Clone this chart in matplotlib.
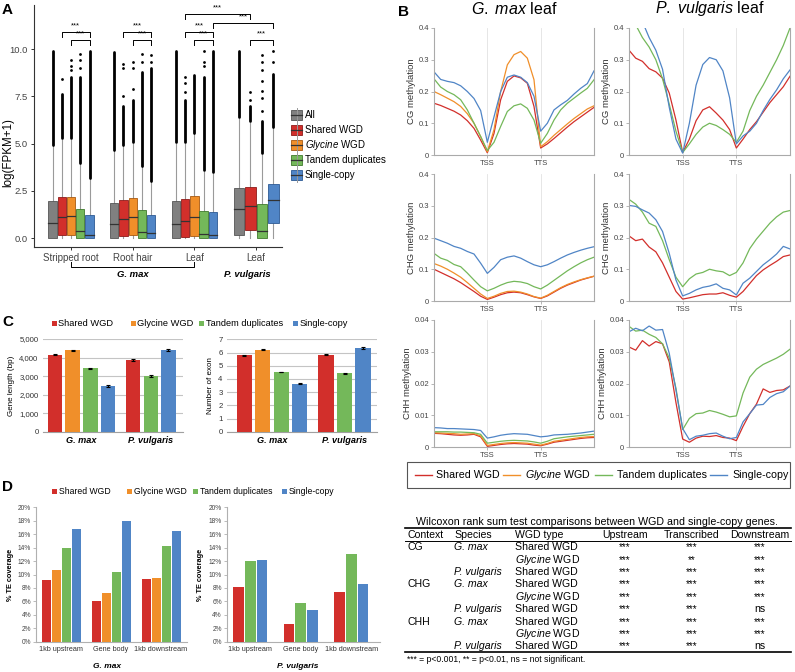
import matplotlib
matplotlib.use('Agg')
import matplotlib.pyplot as plt
from matplotlib.patches import Rectangle
from matplotlib.lines import Line2D

plt.rcParams['font.family'] = 'Liberation Sans'
plt.rcParams['mathtext.fontset'] = 'custom'
plt.rcParams['mathtext.rm'] = 'Liberation Sans'
plt.rcParams['mathtext.it'] = 'Liberation Sans:italic'
plt.rcParams['mathtext.bf'] = 'Liberation Sans:bold'

W, H = 795, 672

RED, ORANGE, GREEN, BLUE, GRAY = '#D22F2B', '#F08F2A', '#74B85A', '#5085C6', '#808080'
EDGE = {GRAY: '#555555', RED: '#8E1C1A', ORANGE: '#A85A12', GREEN: '#3F7A2C', BLUE: '#2D5A94'}
WHISKER = '#9a9a9a'

# ---------------- panel A data: log(FPKM+1) boxplots ----------------
A_TISSUES = ['Stripped root', 'Root hair', 'Leaf', 'Leaf']
A_SERIES = ['All', 'Shared WGD', '$\\mathit{Glycine}$ WGD', 'Tandem duplicates', 'Single-copy']
A_COLORS = [GRAY, RED, ORANGE, GREEN, BLUE]
A_MEMBERS = [[0, 1, 2, 3, 4], [0, 1, 2, 3, 4], [0, 1, 2, 3, 4], [0, 1, 3, 4]]
A_MIN = 0.0
A_Q1 = [[0, 0.18, 0.18, 0, 0], [0, 0.12, 0.18, 0, 0], [0, 0.05, 0.12, 0, 0], [0.18, 0.45, 0, 0.80]]
A_MED = [[0.77, 1.11, 1.15, 0.35, 0.18], [0.73, 1.02, 1.10, 0.32, 0.28],
         [0.72, 0.92, 1.10, 0.22, 0.18], [1.52, 1.70, 0.38, 2.00]]
A_Q3 = [[1.95, 2.18, 2.18, 1.56, 1.24], [1.85, 2.00, 2.10, 1.50, 1.20],
        [1.95, 2.05, 2.20, 1.42, 1.37], [2.65, 2.72, 1.78, 2.85]]
A_WHI = [[4.85, 5.20, 5.20, 3.90, 3.10], [4.60, 4.85, 5.00, 3.75, 2.95],
         [5.00, 5.00, 5.50, 3.50, 3.40], [6.30, 6.10, 4.40, 5.80]]
A_DENSE = [[9.90, 7.60, 8.50, 8.50, 9.90], [9.85, 7.00, 7.30, 8.80, 9.00],
           [9.90, 7.30, 8.60, 8.50, 9.90], [9.90, 7.00, 6.20, 8.70]]
A_SPARSE = [[[], [8.4], [8.9, 9.1, 9.4], [9.0, 9.4, 9.75], []],
            [[], [7.5, 9.0, 9.2], [7.9, 9.0, 9.3], [9.3, 9.75], [9.3, 9.7]],
            [[], [7.7, 8.2, 8.5], [], [9.1, 9.3, 9.9], []],
            [[], [7.3, 7.7], [6.7, 7.4, 7.8, 8.3, 8.9, 9.3, 9.7], [9.3, 9.9]]]
A_YTICKS = [0, 2.5, 5.0, 7.5, 10.0]
# (group, series, group, series, bracket height)
A_BRACKETS = [(0, 1, 0, 4, 10.92), (0, 2, 0, 4, 10.48),
              (1, 1, 1, 4, 10.92), (1, 2, 1, 4, 10.48),
              (2, 1, 3, 1, 11.85), (2, 4, 3, 4, 11.40),
              (2, 1, 2, 4, 10.92), (2, 2, 2, 4, 10.48),
              (3, 1, 3, 4, 10.48)]

# ---------------- panel B data: methylation profiles ----------------
B_X = [0, 0.125, 0.25, 0.375, 0.5, 0.625, 0.75, 0.875, 1.0, 1.125, 1.25, 1.375, 1.5,
       1.625, 1.75, 1.875, 2.0, 2.125, 2.25, 2.375, 2.5, 2.625, 2.75, 2.875, 3.0]

CG_GM_SHARED = [0.163, 0.156, 0.147, 0.138, 0.126, 0.108, 0.084, 0.047, 0.007, 0.068, 0.174, 0.232, 0.249,
                0.243, 0.226, 0.153, 0.022, 0.035, 0.052, 0.07, 0.088, 0.105, 0.12, 0.135, 0.15]
CG_GM_GLYCINE = [0.2, 0.19, 0.179, 0.168, 0.153, 0.13, 0.1, 0.058, 0.01, 0.08, 0.2, 0.284, 0.316,
                 0.326, 0.305, 0.237, 0.026, 0.042, 0.062, 0.08, 0.098, 0.115, 0.13, 0.145, 0.155]
CG_GM_TANDEM = [0.24, 0.214, 0.2, 0.19, 0.174, 0.142, 0.1, 0.058, 0.014, 0.04, 0.09, 0.137, 0.155,
                0.161, 0.147, 0.11, 0.037, 0.068, 0.11, 0.142, 0.163, 0.179, 0.195, 0.21, 0.237]
CG_GM_SINGLE = [0.262, 0.238, 0.232, 0.228, 0.218, 0.2, 0.178, 0.14, 0.04, 0.12, 0.2, 0.245, 0.252,
                0.245, 0.228, 0.185, 0.075, 0.1, 0.142, 0.158, 0.172, 0.192, 0.21, 0.225, 0.265]
CG_PV_SHARED = [0.33, 0.305, 0.295, 0.272, 0.262, 0.242, 0.195, 0.11, 0.008, 0.05, 0.108, 0.142, 0.152,
                0.132, 0.11, 0.08, 0.022, 0.05, 0.08, 0.105, 0.135, 0.165, 0.19, 0.215, 0.248]
CG_PV_TANDEM = [0.44, 0.41, 0.37, 0.34, 0.3, 0.24, 0.16, 0.075, 0.008, 0.035, 0.065, 0.088, 0.1,
                0.093, 0.08, 0.065, 0.04, 0.075, 0.14, 0.185, 0.22, 0.26, 0.3, 0.345, 0.4]
CG_PV_SINGLE = [0.5, 0.46, 0.42, 0.37, 0.33, 0.27, 0.15, 0.05, 0.006, 0.1, 0.22, 0.285, 0.307,
                0.3, 0.265, 0.18, 0.035, 0.06, 0.075, 0.1, 0.14, 0.175, 0.205, 0.24, 0.268]

CHG_GM_SHARED = [0.1, 0.09, 0.08, 0.07, 0.058, 0.044, 0.03, 0.015, 0.005, 0.012, 0.02, 0.026, 0.028,
                 0.026, 0.02, 0.013, 0.008, 0.016, 0.028, 0.04, 0.05, 0.058, 0.066, 0.072, 0.078]
CHG_GM_GLYCINE = [0.118, 0.11, 0.1, 0.088, 0.075, 0.058, 0.04, 0.022, 0.008, 0.015, 0.024, 0.03, 0.031,
                  0.028, 0.022, 0.014, 0.009, 0.018, 0.03, 0.042, 0.052, 0.06, 0.067, 0.073, 0.078]
CHG_GM_TANDEM = [0.15, 0.135, 0.128, 0.115, 0.108, 0.088, 0.066, 0.045, 0.032, 0.04, 0.05, 0.058, 0.062,
                 0.06, 0.055, 0.045, 0.038, 0.05, 0.065, 0.08, 0.095, 0.108, 0.12, 0.13, 0.138]
CHG_GM_SINGLE = [0.198, 0.19, 0.182, 0.172, 0.166, 0.156, 0.148, 0.119, 0.087, 0.106, 0.13, 0.138, 0.142,
                 0.135, 0.124, 0.114, 0.108, 0.114, 0.124, 0.135, 0.145, 0.153, 0.16, 0.166, 0.171]
CHG_PV_SHARED = [0.205, 0.19, 0.195, 0.17, 0.155, 0.12, 0.075, 0.03, 0.006, 0.01, 0.015, 0.02, 0.022,
                 0.022, 0.026, 0.018, 0.012, 0.03, 0.055, 0.08, 0.098, 0.112, 0.125, 0.14, 0.145]
CHG_PV_TANDEM = [0.32, 0.305, 0.28, 0.245, 0.235, 0.19, 0.13, 0.075, 0.045, 0.07, 0.085, 0.09, 0.1,
                 0.095, 0.092, 0.08, 0.09, 0.12, 0.165, 0.195, 0.22, 0.245, 0.265, 0.28, 0.285]
CHG_PV_SINGLE = [0.301, 0.298, 0.287, 0.277, 0.256, 0.219, 0.15, 0.066, 0.016, 0.024, 0.035, 0.043, 0.047,
                 0.054, 0.04, 0.035, 0.019, 0.056, 0.072, 0.093, 0.114, 0.13, 0.148, 0.172, 0.164]

CHH_GM_SHARED = [0.0043, 0.0042, 0.004, 0.0038, 0.0037, 0.0038, 0.004, 0.0032, 0.0002, 0.0005, 0.0008, 0.001,
                 0.0011, 0.001, 0.0009, 0.0006, 0.0004, 0.0009, 0.0015, 0.0018, 0.0021, 0.0024, 0.0027, 0.0029, 0.003]
CHH_GM_GLYCINE = [0.0045, 0.0044, 0.0043, 0.0042, 0.004, 0.0041, 0.0042, 0.0035, 0.0005, 0.0008, 0.0011, 0.0013,
                  0.0014, 0.0013, 0.0012, 0.0009, 0.0006, 0.0011, 0.0018, 0.0021, 0.0024, 0.0027, 0.003, 0.0032, 0.0033]
CHH_GM_TANDEM = [0.0048, 0.0048, 0.0048, 0.0047, 0.0047, 0.0046, 0.0045, 0.004, 0.0012, 0.0015, 0.0018, 0.002,
                 0.0021, 0.002, 0.0019, 0.0016, 0.0012, 0.0018, 0.0026, 0.0029, 0.0032, 0.0034, 0.0036, 0.0038, 0.004]
CHH_GM_SINGLE = [0.0061, 0.006, 0.0058, 0.0058, 0.0057, 0.0056, 0.0055, 0.0052, 0.0028, 0.0032, 0.0037, 0.004,
                 0.0042, 0.0041, 0.004, 0.0036, 0.0032, 0.0034, 0.0038, 0.0039, 0.004, 0.0042, 0.0044, 0.0047, 0.005]
CHH_PV_SHARED = [0.0315, 0.0305, 0.0335, 0.0318, 0.0332, 0.0325, 0.0268, 0.014, 0.0025, 0.0015, 0.0028, 0.0034,
                 0.0033, 0.0036, 0.003, 0.0028, 0.002, 0.0065, 0.0105, 0.0135, 0.0183, 0.0172, 0.0178, 0.018, 0.0192]
CHH_PV_TANDEM = [0.038, 0.0365, 0.0368, 0.0355, 0.0345, 0.0325, 0.028, 0.0185, 0.0055, 0.009, 0.0105, 0.0107,
                 0.0115, 0.011, 0.0103, 0.0095, 0.0098, 0.017, 0.022, 0.0245, 0.026, 0.027, 0.028, 0.0292, 0.0308]
CHH_PV_SINGLE = [0.0363, 0.0374, 0.0366, 0.0381, 0.0368, 0.037, 0.0295, 0.0179, 0.0058, 0.0023, 0.0034, 0.0037,
                 0.0042, 0.0044, 0.0034, 0.0026, 0.003, 0.0079, 0.0105, 0.0132, 0.0134, 0.0156, 0.0168, 0.0174, 0.0192]

B_TITLES = ['$\\mathit{G.\\ max}$ leaf', '$\\mathit{P.\\ vulgaris}$ leaf']
B_YLABELS = ['CG methylation', 'CHG methylation', 'CHH methylation']
B_YTICKS = [[0, 0.1, 0.2, 0.3, 0.4], [0, 0.1, 0.2, 0.3, 0.4], [0, 0.01, 0.02, 0.03, 0.04]]
B_YTICKLABELS = [['0', '0.1', '0.2', '0.3', '0.4'], ['0', '0.1', '0.2', '0.3', '0.4'],
                 ['0', '0.01', '0.02', '0.03', '0.04']]
B_XTICKLABELS = ['TSS', 'TTS']
B_LEGEND = ['Shared WGD', '$\\mathit{Glycine}$ WGD', 'Tandem duplicates', 'Single-copy']

# ---------------- panel C data ----------------
C_SPECIES = ['G. max', 'P. vulgaris']
C_LEGEND = ['Shared WGD', 'Glycine WGD', 'Tandem duplicates', 'Single-copy']
C_LEN_GM = [4145, 4400, 3420, 2480]
C_LEN_GM_ERR = [25, 25, 20, 50]
C_LEN_PV = [3870, 3000, 4420]
C_LEN_PV_ERR = [40, 35, 55]
C_EXON_GM = [5.78, 6.20, 4.53, 3.63]
C_EXON_GM_ERR = [0.03, 0.03, 0.03, 0.03]
C_EXON_PV = [5.83, 4.41, 6.32]
C_EXON_PV_ERR = [0.05, 0.04, 0.09]
C_LEN_TICKS = [0, 1000, 2000, 3000, 4000, 5000]
C_LEN_TICKLABELS = ['0', '1,000', '2,000', '3,000', '4,000', '5,000']
C_EXON_TICKS = [0, 1, 2, 3, 4, 5, 6, 7]

# ---------------- panel D data: % TE coverage ----------------
D_REGIONS = ['1kb upstream', 'Gene body', '1kb downstream']
D_GM_SHARED = [9.2, 6.1, 9.3]
D_GM_GLYCINE = [10.6, 7.3, 9.5]
D_GM_TANDEM = [13.9, 10.3, 14.2]
D_GM_SINGLE = [16.7, 17.9, 16.5]
D_PV_SHARED = [8.1, 2.7, 7.4]
D_PV_TANDEM = [12.0, 5.7, 13.1]
D_PV_SINGLE = [12.2, 4.7, 8.6]
D_TICKS = [0, 2, 4, 6, 8, 10, 12, 14, 16, 18, 20]

# ---------------- table ----------------
T_TITLE = 'Wilcoxon rank sum test comparisons between WGD and single-copy genes.'
T_HEADER = ['Context', 'Species', 'WGD type', 'Upstream', 'Transcribed', 'Downstream']
T_ROWS = [
    ('CG', 'G. max', 'Shared WGD', '***', '***', '***'),
    ('', '', '$\\mathit{Glycine}$ WGD', '***', '**', '***'),
    ('', 'P. vulgaris', 'Shared WGD', '***', '***', '***'),
    ('CHG', 'G. max', 'Shared WGD', '***', '***', '***'),
    ('', '', '$\\mathit{Glycine}$ WGD', '***', '***', '***'),
    ('', 'P. vulgaris', 'Shared WGD', '***', '***', 'ns'),
    ('CHH', 'G. max', 'Shared WGD', '***', '***', '***'),
    ('', '', '$\\mathit{Glycine}$ WGD', '***', '***', '***'),
    ('', 'P. vulgaris', 'Shared WGD', '***', '***', 'ns'),
]
T_FOOT = '*** = p<0.001, ** = p<0.01, ns = not significant.'


fig = plt.figure(figsize=(W / 100, H / 100), dpi=100)


def px_axes(x0, y0, x1, y1):
    return fig.add_axes([x0 / W, 1 - y1 / H, (x1 - x0) / W, (y1 - y0) / H])


def ftext(x, y, s, **kw):
    kw.setdefault('ha', 'left')
    kw.setdefault('va', 'center')
    fig.text(x / W, 1 - y / H, s, **kw)


def fline(x0, y0, x1, y1, **kw):
    fig.add_artist(Line2D([x0 / W, x1 / W], [1 - y0 / H, 1 - y1 / H], transform=fig.transFigure, **kw))


def frect(x0, y0, x1, y1, **kw):
    fig.add_artist(Rectangle((x0 / W, 1 - y1 / H), (x1 - x0) / W, (y1 - y0) / H,
                             transform=fig.transFigure, **kw))


# ======================= A =======================
def a_pos(g, s):
    members = A_MEMBERS[g]
    slot = 0.75 / len(members)
    return g + 1 - 0.375 + slot * (members.index(s) + 0.5)


ax = px_axes(34, 5, 282, 247)
ax.set_xlim(0.4, 4.42)
ax.set_ylim(-0.476, 12.33)
for g, members in enumerate(A_MEMBERS):
    w = 0.75 / len(members) * 0.9
    for k, s in enumerate(members):
        xc = a_pos(g, s)
        q1, med, q3 = A_Q1[g][k], A_MED[g][k], A_Q3[g][k]
        col = A_COLORS[s]
        ax.plot([xc, xc], [A_MIN, q1], color=WHISKER, lw=0.8, zorder=1)
        ax.plot([xc, xc], [q3, A_WHI[g][k]], color=WHISKER, lw=0.8, zorder=1)
        ax.add_patch(Rectangle((xc - w / 2, q1), w, q3 - q1, facecolor=col,
                               edgecolor=EDGE[col], lw=0.6, zorder=2))
        ax.plot([xc - w / 2, xc + w / 2], [med, med], color='#333333', lw=0.9, zorder=3)
        ax.plot([xc, xc], [A_WHI[g][k] + 0.08, A_DENSE[g][k]], color='black', lw=2.0,
                solid_capstyle='round', zorder=3)
        if A_SPARSE[g][k]:
            ax.plot([xc] * len(A_SPARSE[g][k]), A_SPARSE[g][k], 'o', color='black',
                    ms=2.0, mew=0, zorder=3)

for g1, s1, g2, s2, yb in A_BRACKETS:
    x1, x2 = a_pos(g1, s1), a_pos(g2, s2)
    ax.plot([x1, x1, x2, x2], [yb - 0.27, yb, yb, yb - 0.27], color='black', lw=0.7, clip_on=False)
    ax.text((x1 + x2) / 2, yb + 0.12, '***', ha='center', va='bottom', fontsize=5.5)

for sp in ['top', 'right']:
    ax.spines[sp].set_visible(False)
for sp in ['left', 'bottom']:
    ax.spines[sp].set_color('#333333')
    ax.spines[sp].set_linewidth(0.8)
ax.set_yticks(A_YTICKS)
ax.set_yticklabels(['%.1f' % v for v in A_YTICKS], fontsize=6.8, color='#444444')
ax.set_xticks([1, 2, 3, 4])
ax.set_xticklabels(A_TISSUES, fontsize=7, color='#444444')
ax.tick_params(length=2.5, width=0.7, color='#333333', pad=2)
ax.set_ylabel('log(FPKM+1)', fontsize=8.3, va='center')
ax.yaxis.set_label_coords(-0.105, 0.39)

tr = ax.get_xaxis_transform()
ax.plot([1, 1, 3, 3], [-0.061, -0.084, -0.084, -0.061], transform=tr, clip_on=False,
        color='black', lw=0.7)
ax.text(2, -0.112, C_SPECIES[0], transform=tr, ha='center', va='center', fontsize=6.8,
        fontweight='bold', fontstyle='italic')
ax.text(3.85, -0.112, C_SPECIES[1], transform=tr, ha='center', va='center', fontsize=6.8,
        fontweight='bold', fontstyle='italic')

for i, name in enumerate(A_SERIES):
    y = 115 + i * 15
    col = A_COLORS[i]
    fline(296.5, y - 7, 296.5, y + 7, color=WHISKER, lw=0.7)
    frect(291, y - 5, 302, y + 5, facecolor=col, edgecolor=EDGE[col], lw=0.6)
    fline(291, y, 302, y, color='#333333', lw=0.9)
    ftext(305, y, name, fontsize=7)

ftext(2, 10, 'A', fontsize=11, fontweight='bold')

# ======================= B =======================
B_LINES = [
    [[(RED, CG_GM_SHARED), (ORANGE, CG_GM_GLYCINE), (GREEN, CG_GM_TANDEM), (BLUE, CG_GM_SINGLE)],
     [(RED, CG_PV_SHARED), (GREEN, CG_PV_TANDEM), (BLUE, CG_PV_SINGLE)]],
    [[(RED, CHG_GM_SHARED), (ORANGE, CHG_GM_GLYCINE), (GREEN, CHG_GM_TANDEM), (BLUE, CHG_GM_SINGLE)],
     [(RED, CHG_PV_SHARED), (GREEN, CHG_PV_TANDEM), (BLUE, CHG_PV_SINGLE)]],
    [[(RED, CHH_GM_SHARED), (ORANGE, CHH_GM_GLYCINE), (GREEN, CHH_GM_TANDEM), (BLUE, CHH_GM_SINGLE)],
     [(RED, CHH_PV_SHARED), (GREEN, CHH_PV_TANDEM), (BLUE, CHH_PV_SINGLE)]],
]
B_COLX = [(434, 594), (629, 790)]
B_ROWY = [(28, 155), (174, 301), (320, 447)]
for r in range(3):
    for c in range(2):
        ax = px_axes(B_COLX[c][0], B_ROWY[r][0], B_COLX[c][1], B_ROWY[r][1])
        for xv in (1, 2):
            ax.axvline(xv, color='#e2e2e2', lw=0.6, zorder=0)
        for col, vals in B_LINES[r][c]:
            ax.plot(B_X, vals, color=col, lw=0.9)
        ax.set_xlim(0, 3)
        ax.set_ylim(0, B_YTICKS[r][-1])
        ax.spines['top'].set_visible(False)
        for sp in ['left', 'bottom', 'right']:
            ax.spines[sp].set_color('#aaaaaa')
            ax.spines[sp].set_linewidth(0.8)
        ax.set_yticks(B_YTICKS[r])
        ax.set_yticklabels(B_YTICKLABELS[r], fontsize=5.5, color='#444444')
        ax.set_xticks([1, 2])
        ax.set_xticklabels(B_XTICKLABELS, fontsize=5.5, color='#444444')
        ax.tick_params(length=2, width=0.6, color='#aaaaaa', pad=1.5)
        ax.set_ylabel(B_YLABELS[r], fontsize=6.8, color='#333333', labelpad=2)
for c in range(2):
    ftext((B_COLX[c][0] + B_COLX[c][1]) / 2, 9, B_TITLES[c], ha='center', fontsize=11.5)
ftext(398, 12, 'B', fontsize=11, fontweight='bold')

frect(407, 462, 790, 488, facecolor='none', edgecolor='#555555', lw=0.8)
for (x0, xt), col, name in zip([(415, 436), (503, 525), (595, 617), (710, 732)],
                               [RED, ORANGE, GREEN, BLUE], B_LEGEND):
    fline(x0, 474.5, x0 + 17, 474.5, color=col, lw=1.0)
    ftext(xt, 475, name, fontsize=7.7)

# ======================= C =======================
def bar_groups(ax, groups, width, spacing):
    for center, vals, errs, cols in groups:
        n = len(vals)
        xs = [center + (k - (n - 1) / 2) * spacing for k in range(n)]
        ax.bar(xs, vals, width, color=cols, yerr=errs, capsize=1.6, zorder=3,
               error_kw=dict(elinewidth=0.8, capthick=0.8, ecolor='black'))


C_GM_COLS = [RED, ORANGE, GREEN, BLUE]
C_PV_COLS = [RED, GREEN, BLUE]
for box, xlim, groups, ticks, tlabels, ylabel in [
        ((42.7, 339, 182.7, 431.7), (-0.56, 1.46),
         [(0, C_LEN_GM, C_LEN_GM_ERR, C_GM_COLS), (1, C_LEN_PV, C_LEN_PV_ERR, C_PV_COLS)],
         C_LEN_TICKS, C_LEN_TICKLABELS, 'Gene length (bp)'),
        ((226.7, 339.3, 376.7, 431.7), (-0.625, 1.444),
         [(0, C_EXON_GM, C_EXON_GM_ERR, C_GM_COLS), (1, C_EXON_PV, C_EXON_PV_ERR, C_PV_COLS)],
         C_EXON_TICKS, [str(t) for t in C_EXON_TICKS], 'Number of exon')]:
    ax = px_axes(*box)
    bar_groups(ax, groups, 0.21, 0.255)
    ax.set_xlim(*xlim)
    ax.set_ylim(ticks[0], ticks[-1])
    ax.set_yticks(ticks)
    ax.set_yticklabels(tlabels, fontsize=5.6, color='#333333')
    ax.grid(axis='y', color='#c4c4c4', lw=0.8, zorder=0)
    ax.set_axisbelow(True)
    for sp in ['top', 'right', 'left']:
        ax.spines[sp].set_visible(False)
    ax.spines['bottom'].set_color('#a0a0a0')
    ax.set_xticks([0, 1])
    ax.set_xticklabels(C_SPECIES, fontsize=6.6, fontweight='bold', fontstyle='italic')
    ax.tick_params(length=0, pad=3)
    ax.set_ylabel(ylabel, fontsize=5.8, labelpad=3)

for xs, col, name in zip([51.7, 130.7, 199, 293.3], [RED, ORANGE, GREEN, BLUE], C_LEGEND):
    frect(xs, 320.8, xs + 5, 325.8, facecolor=col, edgecolor='none')
    ftext(xs + 6.5, 323.3, name, fontsize=6.7)
ftext(2, 322, 'C', fontsize=11, fontweight='bold')

# ======================= D =======================
for box, xlim, series, width, spacing, sp_name, sp_x in [
        ((36, 507.3, 187, 641.7), (-0.5, 2.52),
         [(D_GM_SHARED, RED), (D_GM_GLYCINE, ORANGE), (D_GM_TANDEM, GREEN), (D_GM_SINGLE, BLUE)],
         0.18, 0.2, C_SPECIES[0], 107),
        ((226.7, 507.3, 380, 641.7), (-0.47, 2.57),
         [(D_PV_SHARED, RED), (D_PV_TANDEM, GREEN), (D_PV_SINGLE, BLUE)],
         0.212, 0.232, C_SPECIES[1], 298)]:
    ax = px_axes(*box)
    n = len(series)
    for k, (vals, col) in enumerate(series):
        xs = [i + (k - (n - 1) / 2) * spacing for i in range(len(D_REGIONS))]
        ax.bar(xs, vals, width, color=col, zorder=3)
    ax.set_xlim(*xlim)
    ax.set_ylim(0, 20)
    ax.set_yticks(D_TICKS)
    ax.set_yticklabels(['%d%%' % t for t in D_TICKS], fontsize=4.8, color='#444444')
    ax.set_xticks(range(len(D_REGIONS)))
    ax.set_xticklabels(D_REGIONS, fontsize=5.2, color='#333333')
    for s in ['top', 'right']:
        ax.spines[s].set_visible(False)
    for s in ['left', 'bottom']:
        ax.spines[s].set_color('#b0b0b0')
        ax.spines[s].set_linewidth(0.8)
    ax.tick_params(axis='y', length=2, width=0.6, color='#b0b0b0', pad=1.5)
    ax.tick_params(axis='x', length=0, pad=3)
    ax.set_ylabel('% TE coverage', fontsize=5.3, fontweight='bold', labelpad=3)
    ftext(sp_x, 666, sp_name, ha='center', fontsize=6, fontweight='bold', fontstyle='italic')

for xs, col, name in zip([51.7, 126.7, 193.3, 281.7], [RED, ORANGE, GREEN, BLUE], C_LEGEND):
    frect(xs, 488.8, xs + 5, 493.8, facecolor=col, edgecolor='none')
    ftext(xs + 7, 491.3, name, fontsize=6.2)
ftext(2, 487, 'D', fontsize=11, fontweight='bold')

# ======================= table =======================
ftext(597, 521.7, T_TITLE, ha='center', fontsize=7.7)
fline(405, 528, 791, 528, color='black', lw=1.2)
fline(405, 540.5, 791, 540.5, color='black', lw=0.7)
fline(405, 652.3, 791, 652.3, color='black', lw=1.2)

T_COLX = [(407, 'left'), (454, 'left'), (515, 'left'), (625, 'center'), (692, 'center'), (760, 'center')]
for (x, ha), h in zip(T_COLX, T_HEADER):
    ftext(x, 534.3 + 3.5, h, ha=ha, va='baseline', fontsize=7.6)
for i, row in enumerate(T_ROWS):
    yb = 546.7 + i * 12.4 + 3.5
    for j, ((x, ha), cell) in enumerate(zip(T_COLX, row)):
        if not cell:
            continue
        style = 'italic' if j == 1 else 'normal'
        size = 7.0 if cell.startswith('*') else 7.6
        ftext(x, yb, cell, ha=ha, va='baseline', fontsize=size, fontstyle=style)
ftext(407, 659, T_FOOT, fontsize=6.2)

fig.savefig('out.png', dpi=100)
